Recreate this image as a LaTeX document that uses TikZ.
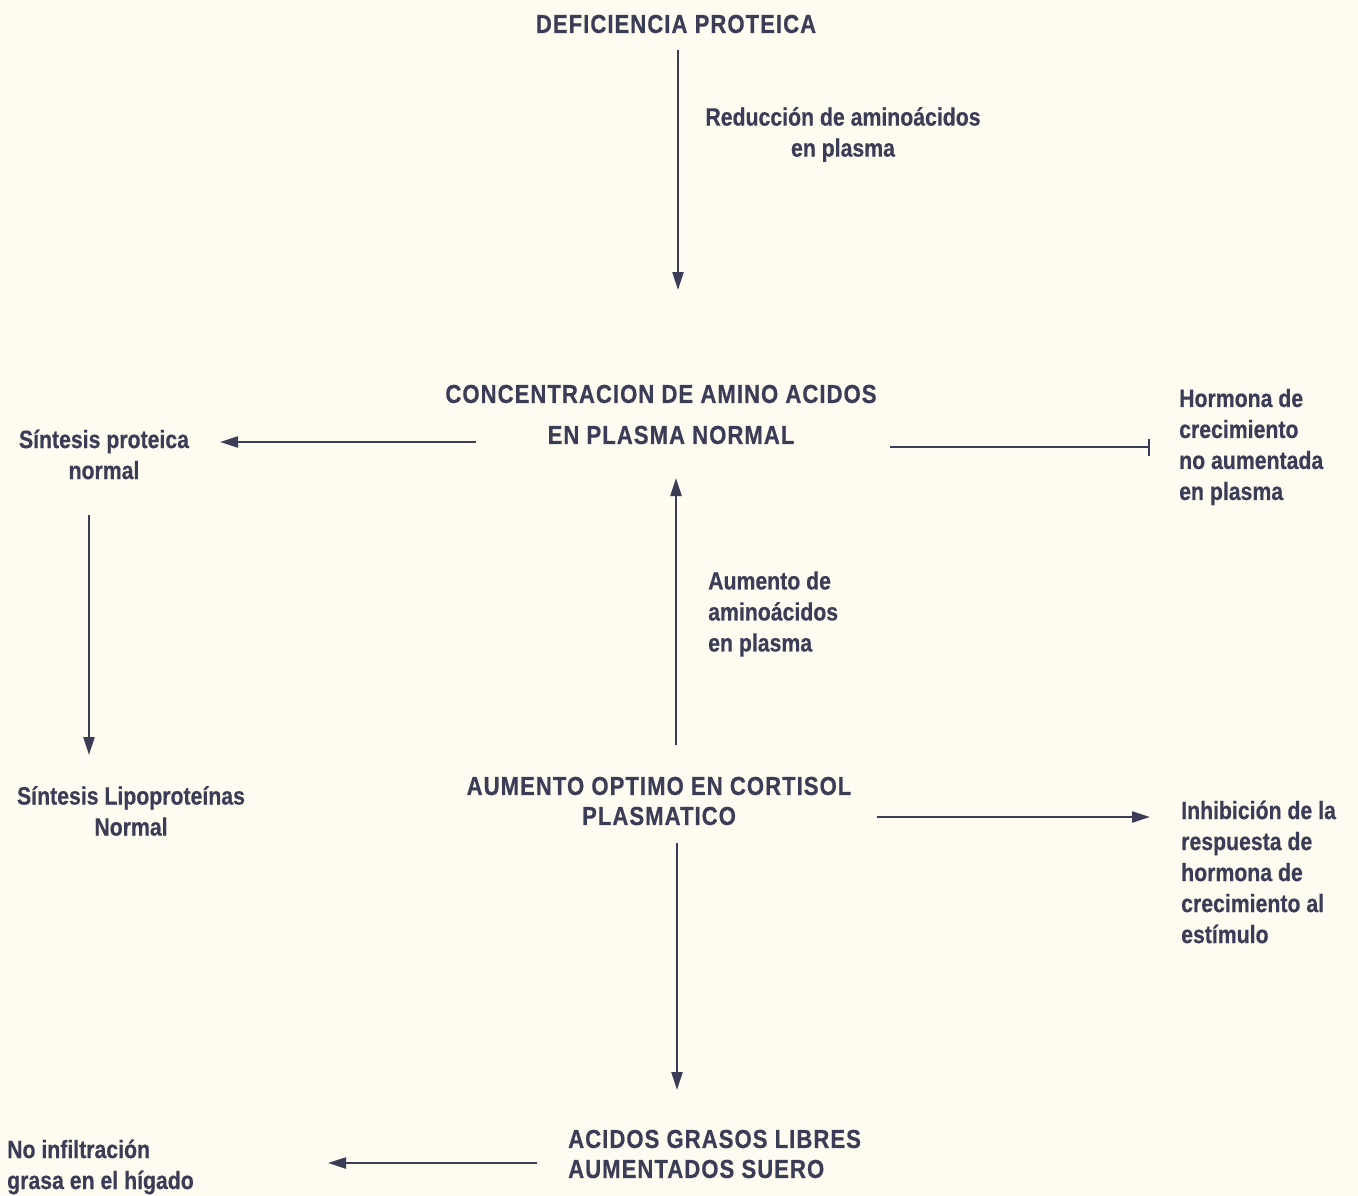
\documentclass[tikz,border=0pt]{standalone}
\usepackage{fontspec}
\newfontfamily\cf{Liberation Sans}[FakeStretch=0.85, FakeBold=0.5]
\newfontfamily\ct{Liberation Sans}[FakeStretch=0.85, FakeBold=0.6, LetterSpace=4]
\usetikzlibrary{arrows.meta}
\definecolor{ink}{HTML}{3B3C55}
\definecolor{paper}{HTML}{FEFCF1}
\tikzset{
  lbl/.style={font=\cf\bfseries\fontsize{25}{31}\selectfont, text=ink, inner sep=0pt},
  ttl/.style={font=\ct\bfseries\fontsize{26}{41}\selectfont, text=ink, inner sep=0pt},
  arr/.style={draw=ink, line width=2.2pt, -{Triangle[length=18pt,width=11pt]}},
  barr/.style={draw=ink, line width=2.2pt, -{Bar[width=17pt,line width=2.2pt]}}
}
\begin{document}
\begin{tikzpicture}[x=1pt,y=-1pt]
\fill[paper] (0,0) rectangle (1358,1196);
\useasboundingbox (0,0) rectangle (1358,1196);

\node[ttl] (def) at (676,24) {DEFICIENCIA PROTEICA};
\node[lbl, align=center] (red) at (843,134.5) {Reducción de aminoácidos\\en plasma};
\node[ttl, align=center] (conc) at (661,414.5) {CONCENTRACION DE AMINO ACIDOS\\\hspace*{20pt}EN PLASMA NORMAL};
\node[lbl, align=center] (sin) at (104,454.5) {Síntesis proteica\\normal};
\node[lbl, align=left, anchor=west] (hor) at (1179,447) {Hormona de\\crecimiento\\no aumentada\\en plasma};
\node[lbl, align=left, anchor=west] (aum) at (708,614) {Aumento de\\aminoácidos\\en plasma};
\node[ttl, align=center, font=\ct\bfseries\fontsize{26}{30}\selectfont] (cort) at (659,801) {AUMENTO OPTIMO EN CORTISOL\\PLASMATICO};
\node[lbl, align=center] (lip) at (131,811) {Síntesis Lipoproteínas\\Normal};
\node[lbl, align=left, anchor=west] (inh) at (1181,872) {Inhibición de la\\respuesta de\\hormona de\\crecimiento al\\estímulo};
\node[ttl, align=left, anchor=west, font=\ct\bfseries\fontsize{26}{30}\selectfont] (acid) at (568,1154) {ACIDOS GRASOS LIBRES\\AUMENTADOS SUERO};
\node[lbl, align=left, anchor=west] (noinf) at (7,1167) {No infiltración\\grasa en el hígado};

% connector end points derived from the nodes
\coordinate (p1) at ([xshift=2pt]def.center);
\coordinate (p2) at ([xshift=-185pt,yshift=-27.5pt]conc.center);
\coordinate (p3) at ([xshift=229pt,yshift=-32.5pt]conc.center);
\coordinate (p4) at ([xshift=-15pt]sin.center);
\coordinate (p5) at ([xshift=17pt]cort.center);
\coordinate (p6) at ([xshift=218pt,yshift=-16pt]cort.center);
\coordinate (p7) at ([xshift=18pt]cort.center);
\coordinate (p8) at ([xshift=-31pt,yshift=-9pt]acid.west);

\draw[arr, shorten <=26pt, shorten >=124.5pt] (p1) -- (p1 |- conc.center);
\draw[arr, shorten >=116pt] (p2) -- (p2 -| sin.center);
\draw[barr, shorten >=29pt] (p3) -- (p3 -| hor.west);
\draw[arr, shorten <=60.5pt, shorten >=56pt] (p4) -- (p4 |- lip.center);
\draw[arr, shorten <=56pt, shorten >=63.5pt] (p5) -- (p5 |- conc.center);
\draw[arr, shorten >=31pt] (p6) -- (p6 -| inh.west);
\draw[arr, shorten <=42pt, shorten >=64pt] (p7) -- (p7 |- acid.center);
\draw[arr, shorten >=321pt] (p8) -- (p8 -| noinf.west);
\end{tikzpicture}
\end{document}
